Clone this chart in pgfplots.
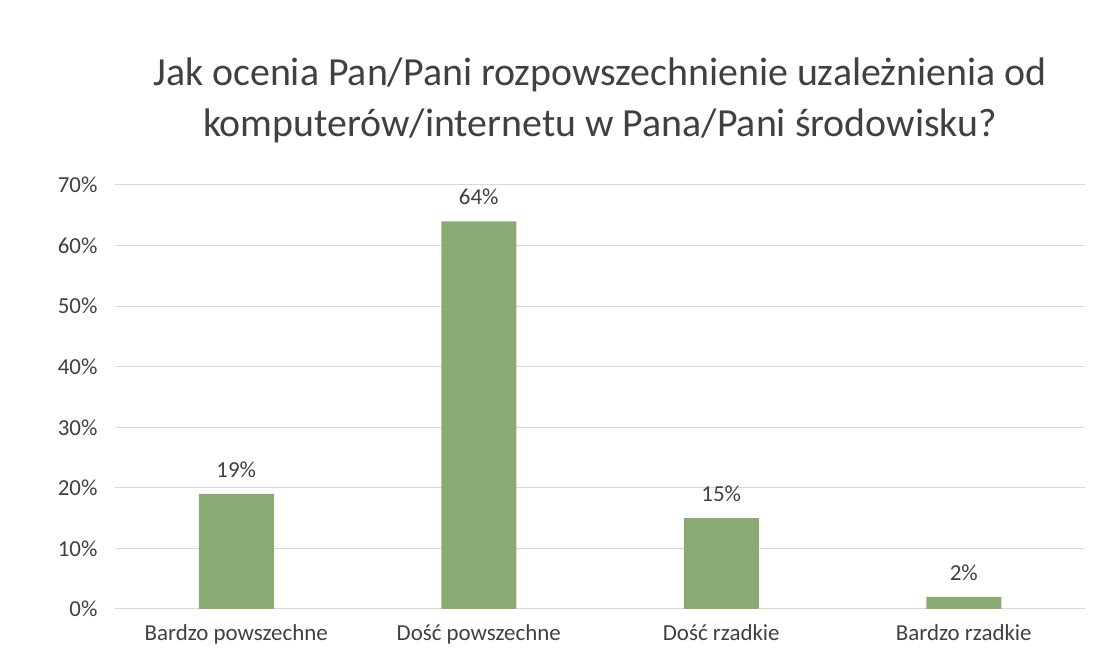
\documentclass[border=0pt]{standalone}
\usepackage{pgfplots}
\pgfplotsset{compat=1.18}
\usepackage{fontspec}
\setmainfont{Carlito}
\definecolor{bargreen}{RGB}{138,170,115}
\definecolor{gridgray}{RGB}{217,217,217}
\definecolor{txtgray}{RGB}{64,64,64}
\begin{document}
\begin{tikzpicture}[x=1bp,y=1bp]
\path (0,0) rectangle (1100,650);
\node[align=center, font=\fontsize{40}{51}\selectfont, text=txtgray] at (600,550)
  {Jak ocenia Pan/Pani rozpowszechnienie uzależnienia od\\komputerów/internetu w Pana/Pani środowisku?};
\begin{axis}[
    at={(115bp,41bp)}, anchor=south west,
    scale only axis,
    width=970bp, height=424bp,
    ybar, bar width=75bp,
    xmin=-0.5, xmax=3.5,
    ymin=0, ymax=70,
    ytick={0,10,...,70},
    yticklabel={\pgfmathprintnumber{\tick}\%},
    xtick=data,
    xticklabels={Bardzo powszechne, Dość powszechne, Dość rzadkie, Bardzo rzadkie},
    ymajorgrids, grid style={gridgray, line width=1pt},
    axis x line*=bottom, axis y line*=left,
    x axis line style={gridgray, line width=1pt},
    y axis line style={draw=none},
    major tick length=0pt,
    tick label style={font=\fontsize{23}{27}\selectfont, text=txtgray},
    /pgf/number format/assume math mode=true,
    xticklabel style={yshift=-12bp},
    yticklabel style={xshift=-14bp},
    nodes near coords={\pgfmathprintnumber{\pgfplotspointmeta}\%},
    nodes near coords style={font=\fontsize{23}{27}\selectfont, text=txtgray, yshift=13bp},
]
\addplot[fill=bargreen, draw=none] coordinates {(0,19) (1,64) (2,15) (3,2)};
\end{axis}
\end{tikzpicture}
\end{document}
